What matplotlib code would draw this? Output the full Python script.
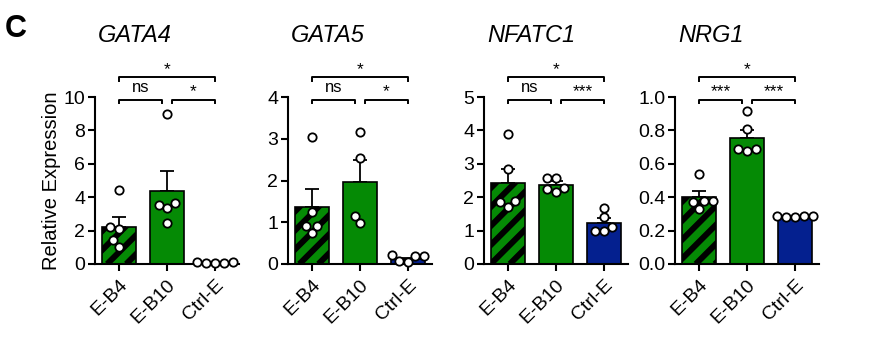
import numpy as np
import matplotlib
matplotlib.use("Agg")
import matplotlib.pyplot as plt
from matplotlib.transforms import blended_transform_factory

plt.rcParams['font.family'] = ['Liberation Sans', 'DejaVu Sans']

groups = ["E-B4", "E-B10", "Ctrl-E"]
genes = ["GATA4", "GATA5", "NFATC1", "NRG1"]

# bar heights (mean) and SEM per gene, in group order
means = {
    "GATA4": [2.24, 4.38, 0.08],
    "GATA5": [1.37, 1.97, 0.12],
    "NFATC1": [2.42, 2.36, 1.24],
    "NRG1": [0.40, 0.755, 0.282],
}
sems = {
    "GATA4": [0.58, 1.18, 0.01],
    "GATA5": [0.43, 0.53, 0.03],
    "NFATC1": [0.42, 0.13, 0.14],
    "NRG1": [0.035, 0.045, 0.004],
}
# individual replicates
points = {
    "GATA4": [[4.44, 2.2, 2.1, 1.42, 1.04],
              [9.0, 3.64, 3.55, 3.37, 2.46],
              [0.1, 0.08, 0.06, 0.07, 0.1]],
    "GATA5": [[3.05, 1.24, 0.92, 0.90, 0.74],
              [3.17, 2.53, 1.16, 0.98],
              [0.22, 0.18, 0.05, 0.08, 0.18]],
    "NFATC1": [[3.88, 2.83, 1.88, 1.85, 1.72],
               [2.58, 2.58, 2.27, 2.25, 2.17],
               [1.69, 1.40, 1.12, 1.0, 0.98]],
    "NRG1": [[0.54, 0.38, 0.375, 0.37, 0.33],
             [0.914, 0.81, 0.69, 0.69, 0.674],
             [0.29, 0.285, 0.28, 0.28, 0.285]],
}
ymax = {"GATA4": 10, "GATA5": 4, "NFATC1": 5, "NRG1": 1.0}
ystep = {"GATA4": 2, "GATA5": 1, "NFATC1": 1, "NRG1": 0.2}
# significance: (E-B4 vs E-B10, E-B10 vs Ctrl-E, E-B4 vs Ctrl-E)
sig = {
    "GATA4": ["ns", "*", "*"],
    "GATA5": ["ns", "*", "*"],
    "NFATC1": ["ns", "***", "*"],
    "NRG1": ["***", "***", "*"],
}

green = "#058a05"
blue = "#04208f"
colors = [green, green, blue]
striped = [True, False, False]


def swarm(ax, xc, vals, d=9.0):
    # simple beeswarm in pixel space: lowest values first, nearest free slot to centre
    tr = ax.transData
    x0 = tr.transform((xc, 0))[0]
    placed = []
    order = np.argsort(vals)
    ys = [tr.transform((xc, v))[1] for v in vals]
    res = [None] * len(vals)
    for i in order:
        y = ys[i]
        blocked = []
        for (px, py) in placed:
            dy = abs(py - y)
            if dy < d:
                w = np.sqrt(d * d - dy * dy)
                blocked.append((px - w, px + w))
        cands = [0.0] + [b for iv in blocked for b in iv]
        best = 0.0
        for c in sorted(cands, key=abs):
            if all(not (lo + 1e-6 < c < hi - 1e-6) for lo, hi in blocked):
                best = c
                break
        placed.append((best, y))
        res[i] = tr.inverted().transform((x0 + best, y))[0]
    return res


def stripes(ax, patch, period=19, lw=4.3):
    # black 45 degree stripes clipped to the bar
    tr = ax.transData
    (x0, y0), (x1, y1) = tr.transform([(patch.get_x(), 0),
                                       (patch.get_x() + patch.get_width(), patch.get_height())])
    inv = tr.inverted()
    span = (x1 - x0) + (y1 - y0)
    for c in np.arange(-span, span, period):
        px = np.array([x0 + c, x0 + c + span])
        py = np.array([y0, y0 + span])
        pts = inv.transform(np.column_stack([px, py]))
        ln, = ax.plot(pts[:, 0], pts[:, 1], color="black", lw=lw, zorder=2.1,
                      solid_capstyle="butt")
        ln.set_clip_path(patch)


fig = plt.figure(figsize=(8.7, 3.4), dpi=100)
lefts = [95, 288, 484, 675]
W, H = 870.0, 340.0
x = np.arange(len(groups))

for k, g in enumerate(genes):
    ax = fig.add_axes([lefts[k] / W, (H - 264) / H, 144 / W, 167 / H])
    ax.set_xlim(-0.5, 2.5)
    ax.set_ylim(0, ymax[g])
    for i in range(3):
        bars = ax.bar(x[i], means[g][i], width=0.7, color=colors[i], edgecolor="none",
                      zorder=2)
        if striped[i]:
            stripes(ax, bars[0])
        ax.bar(x[i], means[g][i], width=0.7, color="none", edgecolor="black",
               linewidth=1.2, zorder=2.2)
        ax.errorbar(x[i], means[g][i], yerr=[[0], [sems[g][i]]], fmt="none",
                    ecolor="black", elinewidth=1.3, capsize=5, capthick=1.3, zorder=1)
        xs = swarm(ax, x[i], points[g][i])
        ax.plot(xs, points[g][i], "o", ms=6, mfc="white", mec="black", mew=1.3,
                zorder=3, clip_on=False)
    ax.set_xlim(-0.5, 2.5)
    ax.set_ylim(0, ymax[g])

    ax.spines["top"].set_visible(False)
    ax.spines["right"].set_visible(False)
    ax.spines["left"].set_linewidth(1.5)
    ax.spines["bottom"].set_linewidth(1.5)
    ax.set_yticks(np.arange(0, ymax[g] + 1e-9, ystep[g]))
    if g == "NRG1":
        ax.set_yticklabels(["%.1f" % v for v in ax.get_yticks()])
    ax.set_xticks(x)
    ax.set_xticklabels(groups, rotation=45, ha="right", rotation_mode="anchor")
    ax.tick_params(axis="both", labelsize=14, width=1.5, length=5, pad=2)
    ax.tick_params(axis="x", pad=4)

    # title, left aligned on the y axis
    ax.text(0.02, 1.33, g, transform=ax.transAxes, fontsize=17, style="italic",
            ha="left", va="baseline")

    # significance brackets
    tb = blended_transform_factory(ax.transData, ax.transAxes)
    spans = [(0.0, 0.9, 0.985), (1.1, 2.0, 0.985), (0.0, 2.0, 1.12)]
    for (a, b, yb), lab in zip(spans, sig[g]):
        ax.plot([a, a, b, b], [yb - 0.022, yb, yb, yb - 0.022], color="black",
                lw=1.4, transform=tb, clip_on=False)
        if lab == "ns":
            ax.text((a + b) / 2, yb + 0.025, lab, transform=tb, fontsize=12,
                    ha="center", va="bottom")
        else:
            ax.text((a + b) / 2, yb + 0.0, lab, transform=tb, fontsize=12.5,
                    ha="center", va="bottom")

    if k == 0:
        ax.set_ylabel("Relative Expression", fontsize=14.5, labelpad=2)

fig.text(5 / W, (H - 37) / H, "C", fontsize=22, fontweight="bold",
         ha="left", va="baseline")

fig.savefig("out.png", dpi=100)
